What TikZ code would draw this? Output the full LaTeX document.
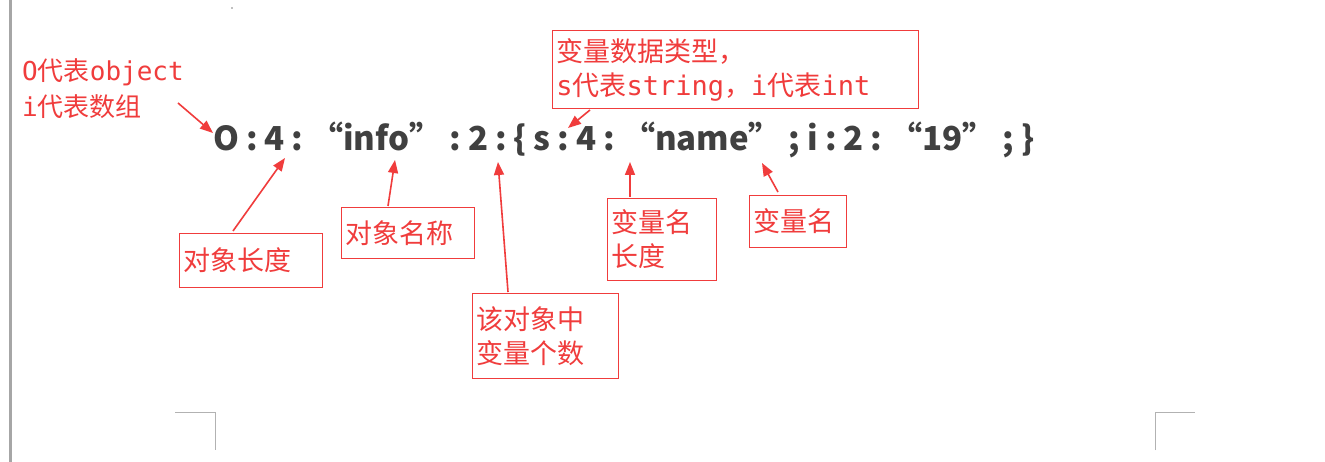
\documentclass[tikz,border=0pt]{standalone}
\usepackage{fontspec}
\setmainfont{Noto Sans CJK SC}
\newfontfamily\cjk{Noto Sans CJK SC}
\newfontfamily\mono{DejaVu Sans Mono}
\usetikzlibrary{arrows.meta}
\definecolor{rd}{HTML}{F03C3C}
\definecolor{tx}{HTML}{404040}
\tikzset{
  lbl/.style={draw=rd, line width=0.9pt, text=rd, font=\cjk\fontsize{27}{34}\selectfont, inner xsep=4pt, inner ysep=0pt, align=left, anchor=north west},
  arr/.style={draw=rd, line width=1.6pt, -{Triangle[length=13pt,width=10pt]}},
}
\newcommand{\gapsp}{\hspace{7pt}}
\begin{document}
\begin{tikzpicture}[x=1pt,y=-1pt]
\useasboundingbox (0,0) rectangle (1325,462);
\fill[white] (0,0) rectangle (1325,462);
\draw[gray!70, line width=3pt] (10,0) -- (10,462);
\fill[gray] (232,8) circle (0.8);
\draw[gray!60, line width=1pt] (175,412) -- (215,412) -- (215,450);
\draw[gray!60, line width=1pt] (1155,450) -- (1155,412) -- (1195,412);
\node[anchor=west, text=tx, font=\cjk\bfseries\fontsize{33}{36}\selectfont, inner sep=0] (main) at (213,140) {O\gapsp:\gapsp4\gapsp:\gapsp“info”\gapsp:\gapsp2\gapsp:\gapsp\{\gapsp s\gapsp:\gapsp4\gapsp:\gapsp“name”\gapsp;\gapsp i\gapsp:\gapsp2\gapsp:\gapsp“19”\gapsp;\gapsp\}};
\node[anchor=north west, text=rd, align=left, inner sep=0, font=\fontsize{26}{36}\selectfont] (leg) at (22,58) {{\mono O}代表{\mono object}\\{\mono i}代表数组};
\node[lbl, text width=358, minimum height=78] (t) at (552,30) {变量数据类型，\\{\mono s}代表{\mono string}，{\mono i}代表{\mono int}};
\node[lbl, text width=135, minimum height=54] (a) at (179,233) {对象长度};
\node[lbl, text width=125, minimum height=51] (b) at (341,207) {对象名称};
\node[lbl, text width=101, minimum height=82] (c) at (607,198) {变量名\\长度};
\node[lbl, text width=89, minimum height=52] (d) at (749,195) {变量名};
\node[lbl, text width=138, minimum height=85] (e) at (472,293) {该对象中\\变量个数};
\coordinate (pO) at (213,133);
\coordinate (p4) at (285,158);
\coordinate (pinfo) at (395,160);
\coordinate (p2) at (498,162);
\coordinate (ps) at (568,128);
\coordinate (p4b) at (630,162);
\coordinate (pname) at (762,163);
\draw[arr] (178,103) -- (pO);
\draw[arr] (233,231) -- (p4);
\draw[arr] (388,206) -- (pinfo);
\draw[arr] (508,292) -- (p2);
\draw[arr] (590,110) -- (ps);
\draw[arr] (630,197) -- (p4b);
\draw[arr] (778,192) -- (pname);
\end{tikzpicture}
\end{document}
